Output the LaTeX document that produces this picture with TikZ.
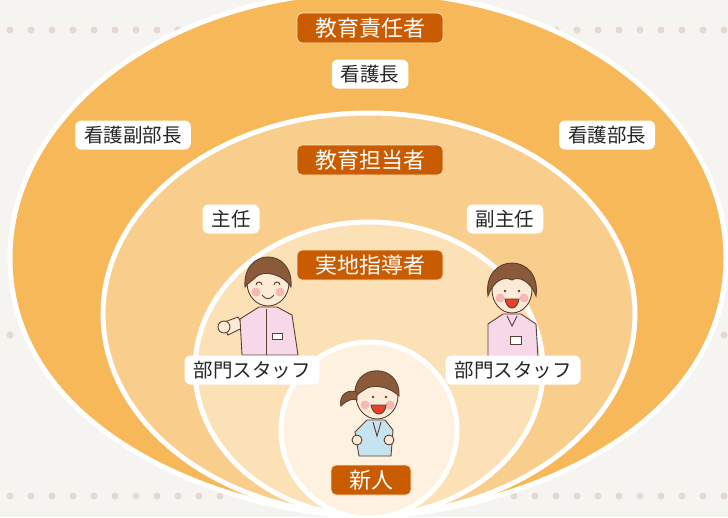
\documentclass[tikz,border=0pt]{standalone}
\usepackage{fontspec}
\newfontfamily\jpfont{Noto Sans CJK JP}

\definecolor{paper}{HTML}{F6F4F0}
\definecolor{dotc}{HTML}{E6D8CE}
\definecolor{ring1}{HTML}{F7B85A}
\definecolor{ring2}{HTML}{F9CD8C}
\definecolor{ring3}{HTML}{FCE0B6}
\definecolor{ring4}{HTML}{FEF1DF}
\definecolor{rust}{HTML}{C95B00}
\definecolor{hair}{HTML}{8A5A3A}
\definecolor{skin}{HTML}{FDEBD8}
\definecolor{cheek}{HTML}{F6B8B2}
\definecolor{coat}{HTML}{F7D8E8}
\definecolor{scrub}{HTML}{C6E3F2}
\definecolor{ink}{HTML}{5A4030}
\definecolor{mouth}{HTML}{E8402A}

\tikzset{
  ring/.style={draw=white, line width=5pt},
  role/.style={fill=rust, draw=ring2!50!white, line width=0.8pt, rounded corners=5pt,
    text=white, font=\jpfont\fontsize{22}{26}\selectfont,
    minimum height=30pt, inner xsep=18pt, inner ysep=0pt},
  staff/.style={fill=white, rounded corners=6pt, text=black!85,
    font=\jpfont\fontsize{19.5}{23}\selectfont,
    minimum height=29pt, inner xsep=9pt, inner ysep=0pt},
  face/.style={draw=ink, fill=skin, line width=0.9pt},
  line/.style={draw=ink, line width=0.9pt},
}

\begin{document}
\begin{tikzpicture}[x=1pt,y=-1pt]
  \useasboundingbox (0,0) rectangle (728,517);
  \fill[paper] (0,0) rectangle (728,517);
  \foreach \row in {30,335,496}
    \foreach \i in {0,...,34}
      \fill[dotc] (10+21*\i,\row) circle (3.5);

  % nested layers, all meeting at the bottom
  \filldraw[ring, fill=ring1] (368,-8) .. controls (170,-8) and (10,111) .. (10,258)
    .. controls (10,438) and (238,516) .. (368,516)
    .. controls (498,516) and (726,438) .. (726,258)
    .. controls (726,111) and (566,-8) .. cycle;
  \filldraw[ring, fill=ring2] (369,314) ellipse [x radius=266, y radius=201];
  \filldraw[ring, fill=ring3] (369,369) ellipse [x radius=174, y radius=147];
  \filldraw[ring, fill=ring4] (369,430) circle (88);

  % staff on the left, waving
  \begin{scope}[shift={(268,283)}]
    \filldraw[line, fill=skin] (-24,44) -- (-40,52) -- (-46,40) -- (-30,34) -- cycle;
    \filldraw[line, fill=skin] (-44,44) circle (6);
    \filldraw[line, fill=coat] (-9,24) -- (9,24) -- (24,32) -- (30,72) -- (-26,72) -- (-28,36) -- cycle;
    \draw[line] (-2,26) -- (-2,72);
    \draw[line, fill=white] (4,50) rectangle (14,56);
    \filldraw[face] (0,0) ellipse [x radius=21, y radius=23];
    \filldraw[line, fill=hair] (-23,4) .. controls (-26,-36) and (26,-36) .. (23,4)
      .. controls (16,-8) and (-4,-14) .. (-12,-6) .. controls (-16,-2) and (-20,0) .. cycle;
    \fill[cheek] (-12,9) circle (4.5) (12,9) circle (4.5);
    \draw[line] (-12,2) arc (180:360:3) (6,2) arc (180:360:3);
    \draw[line] (-6,12) .. controls (-2,17) and (2,17) .. (6,12);
  \end{scope}

  % staff on the right, laughing
  \begin{scope}[shift={(512,290)}]
    \filldraw[line, fill=coat] (-9,24) -- (9,24) -- (24,34) -- (26,68) -- (-24,68) -- (-24,34) -- cycle;
    \draw[line] (-5,26) -- (0,36) -- (5,26);
    \draw[line, fill=white] (-2,46) rectangle (9,54);
    \filldraw[face] (0,0) ellipse [x radius=20, y radius=23];
    \filldraw[line, fill=hair] (-24,6) .. controls (-30,-38) and (30,-38) .. (24,6)
      .. controls (18,-10) and (6,-14) .. (0,-10) .. controls (-8,-14) and (-18,-10) .. cycle;
    \fill[cheek] (-12,8) circle (4.5) (12,8) circle (4.5);
    \fill[ink] (-7,1) circle (1.3) (7,1) circle (1.3);
    \filldraw[line, fill=mouth] (-7,9) .. controls (-5,21) and (5,21) .. (7,9) -- cycle;
  \end{scope}

  % newcomer in the middle
  \begin{scope}[shift={(377,396)}]
    \filldraw[line, fill=scrub] (-10,24) -- (8,24) -- (16,34) -- (14,60) -- (-18,60) -- (-22,36) -- cycle;
    \draw[line] (-4,26) -- (0,40) -- (4,26);
    \filldraw[line, fill=skin] (-20,44) circle (5) (12,44) circle (5);
    \filldraw[face] (0,0) ellipse [x radius=21, y radius=23];
    \filldraw[line, fill=hair] (-22,2) .. controls (-26,-34) and (24,-34) .. (22,0)
      .. controls (14,-8) and (0,-12) .. (-10,-8) .. controls (-16,-4) and (-20,-2) .. cycle;
    \filldraw[line, fill=hair] (-20,-4) .. controls (-34,-8) and (-38,4) .. (-36,10)
      .. controls (-30,4) and (-24,2) .. (-20,4) -- cycle;
    \fill[cheek] (-12,9) circle (4.5) (13,9) circle (4.5);
    \fill[ink] (-4,1) circle (1.3) (9,1) circle (1.3);
    \filldraw[line, fill=mouth] (-6,9) .. controls (-4,21) and (8,21) .. (9,9) -- cycle;
  \end{scope}

  \node[role] (chief) at (370,28) {教育責任者};
  \node[staff] (headnurse) at (370,74) {看護長};
  \node[staff] (deputy) at (133,135) {看護副部長};
  \node[staff] (director) at (607,135) {看護部長};
  \node[role] (trainer) at (370,160) {教育担当者};
  \node[staff] (lead) at (231,219) {主任};
  \node[staff] (sublead) at (505,219) {副主任};
  \node[role] (mentor) at (370,265) {実地指導者};
  \node[staff] (staffl) at (252,370) {部門スタッフ};
  \node[staff] (staffr) at (513,370) {部門スタッフ};
  \node[role] (newbie) at (371,480) {新人};
\end{tikzpicture}
\end{document}
